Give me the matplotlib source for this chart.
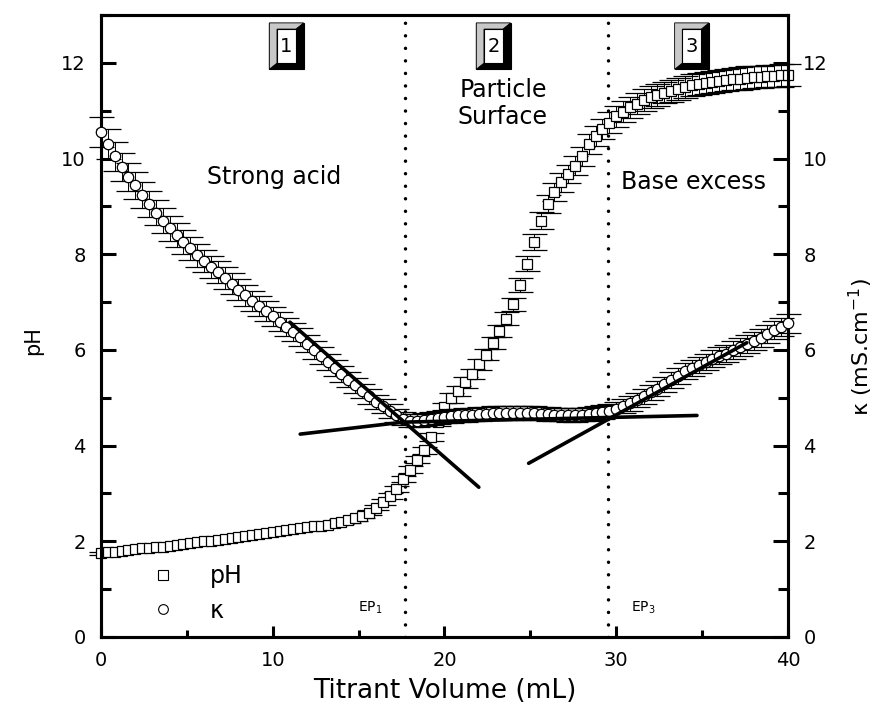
import matplotlib
matplotlib.use('Agg')
import matplotlib.pyplot as plt
from matplotlib.lines import Line2D
from matplotlib.patches import Rectangle, Polygon
from matplotlib.ticker import MultipleLocator

# titrant volume (mL)
volume = [0.0, 0.4, 0.8, 1.2, 1.6, 2.0, 2.4, 2.8, 3.2, 3.6,
	4.0, 4.4, 4.8, 5.2, 5.6, 6.0, 6.4, 6.8, 7.2, 7.6,
	8.0, 8.4, 8.8, 9.2, 9.6, 10.0, 10.4, 10.8, 11.2, 11.6,
	12.0, 12.4, 12.8, 13.2, 13.6, 14.0, 14.4, 14.8, 15.2, 15.6,
	16.0, 16.4, 16.8, 17.2, 17.6, 18.0, 18.4, 18.8, 19.2, 19.6,
	20.0, 20.4, 20.8, 21.2, 21.6, 22.0, 22.4, 22.8, 23.2, 23.6,
	24.0, 24.4, 24.8, 25.2, 25.6, 26.0, 26.4, 26.8, 27.2, 27.6,
	28.0, 28.4, 28.8, 29.2, 29.6, 30.0, 30.4, 30.8, 31.2, 31.6,
	32.0, 32.4, 32.8, 33.2, 33.6, 34.0, 34.4, 34.8, 35.2, 35.6,
	36.0, 36.4, 36.8, 37.2, 37.6, 38.0, 38.4, 38.8, 39.2, 39.6,
	40.0]

ph = [1.75, 1.77, 1.78, 1.80, 1.81, 1.83, 1.85, 1.86, 1.88, 1.89,
	1.91, 1.93, 1.95, 1.96, 1.98, 2.00, 2.01, 2.03, 2.05, 2.07,
	2.09, 2.11, 2.13, 2.15, 2.17, 2.19, 2.21, 2.23, 2.25, 2.27,
	2.29, 2.31, 2.33, 2.35, 2.38, 2.41, 2.44, 2.48, 2.53, 2.60,
	2.70, 2.82, 2.95, 3.10, 3.30, 3.50, 3.70, 3.90, 4.18, 4.50,
	4.80, 5.00, 5.15, 5.32, 5.50, 5.70, 5.90, 6.15, 6.40, 6.65,
	6.95, 7.35, 7.80, 8.25, 8.70, 9.05, 9.30, 9.50, 9.68, 9.85,
	10.05, 10.30, 10.48, 10.62, 10.75, 10.88, 10.98, 11.07, 11.15, 11.22,
	11.28, 11.33, 11.38, 11.42, 11.46, 11.50, 11.53, 11.56, 11.58, 11.60,
	11.62, 11.64, 11.66, 11.67, 11.69, 11.70, 11.71, 11.72, 11.73, 11.74,
	11.75]
ph_rel_err = 0.02

# conductivity (mS/cm)
kappa = [10.55, 10.30, 10.05, 9.82, 9.62, 9.44, 9.24, 9.05, 8.87, 8.70,
	8.54, 8.40, 8.26, 8.12, 7.98, 7.86, 7.74, 7.62, 7.50, 7.38,
	7.26, 7.14, 7.03, 6.92, 6.81, 6.70, 6.59, 6.48, 6.37, 6.26,
	6.13, 6.00, 5.88, 5.75, 5.62, 5.50, 5.38, 5.26, 5.14, 5.03,
	4.92, 4.82, 4.72, 4.63, 4.56, 4.52, 4.52, 4.54, 4.56, 4.58,
	4.60, 4.62, 4.63, 4.64, 4.65, 4.66, 4.67, 4.68, 4.68, 4.69,
	4.69, 4.69, 4.68, 4.68, 4.67, 4.66, 4.65, 4.65, 4.64, 4.64,
	4.65, 4.66, 4.68, 4.70, 4.73, 4.77, 4.82, 4.88, 4.95, 5.03,
	5.11, 5.19, 5.28, 5.37, 5.46, 5.55, 5.62, 5.69, 5.75, 5.82,
	5.88, 5.92, 6.00, 6.06, 6.12, 6.18, 6.25, 6.33, 6.41, 6.48,
	6.56]
kappa_rel_err = 0.03

# straight-line fits drawn over the conductivity curve
acid_fit_x = [11.0, 22.0]
acid_fit_y = [6.58, 3.13]
surface_fit_x = [11.6, 17.6, 34.7]
surface_fit_y = [4.24, 4.49, 4.63]
base_fit_x = [24.9, 37.6]
base_fit_y = [3.63, 6.15]

end_points = [17.7, 29.5]
ep_labels = ['EP$_1$', 'EP$_3$']
ep_label_x = [15.7, 31.6]

regions = ['1', '2', '3']
region_x = [10.8, 22.85, 34.4]

plt.rcParams['font.family'] = ['DejaVu Sans']

fig = plt.figure(figsize=(8.92, 7.04), dpi=100)
ax = fig.add_axes([0.1132, 0.0952, 0.7702, 0.8835])
ax2 = ax.twinx()

ax.errorbar(volume, ph, yerr=[v * ph_rel_err for v in ph], fmt='s', ms=7.5, mfc='white', mec='black', mew=0.9,
	ecolor='black', elinewidth=0.7, capsize=9, capthick=0.7, clip_on=False, zorder=3)
ax2.errorbar(volume, kappa, yerr=[v * kappa_rel_err for v in kappa], fmt='o', ms=7.5, mfc='white', mec='black', mew=0.9,
	ecolor='black', elinewidth=0.7, capsize=9, capthick=0.7, clip_on=False, zorder=3)

for xs, ys in [(acid_fit_x, acid_fit_y), (surface_fit_x, surface_fit_y), (base_fit_x, base_fit_y)]:
	ax2.plot(xs, ys, color='black', lw=2.6, solid_capstyle='round', zorder=4)

for xv in end_points:
	ax.axvline(xv, color='black', lw=2.5, ls=(0, (0.01, 3.6)), dash_capstyle='round', zorder=1)

for lab, xv in zip(ep_labels, ep_label_x):
	ax.text(xv, 0.62, lab, fontsize=10, ha='center', va='center')

# bevelled number buttons at the top
bw, bh, bx, by = 2.0, 0.97, 0.45, 0.13
for lab, xv in zip(regions, region_x):
	x0, y0 = xv - bw / 2, 12.35 - bh / 2
	ax.add_patch(Rectangle((x0, y0), bw, bh, fc='black', ec='black', lw=0.8, zorder=5))
	bevel = [(x0, y0), (x0, y0 + bh), (x0 + bw, y0 + bh), (x0 + bw - bx, y0 + bh - by),
		(x0 + bx, y0 + bh - by), (x0 + bx, y0 + by)]
	ax.add_patch(Polygon(bevel, closed=True, fc='#c8c8c8', ec='black', lw=0.6, zorder=6))
	ax.add_patch(Rectangle((x0 + bx, y0 + by), bw - 2 * bx, bh - 2 * by, fc='white', ec='black', lw=0.8, zorder=7))
	ax.text(xv, 12.35, lab, fontsize=14, ha='center', va='center', zorder=8)

ax.text(10.1, 9.62, 'Strong acid', fontsize=17, ha='center', va='center')
ax.text(23.4, 11.15, 'Particle\nSurface', fontsize=17, ha='center', va='center', linespacing=1.15)
ax.text(34.5, 9.5, 'Base excess', fontsize=17, ha='center', va='center')

for a in (ax, ax2):
	a.set_xlim(0, 40)
	a.set_ylim(0, 13)
	a.yaxis.set_major_locator(MultipleLocator(2))
	a.yaxis.set_minor_locator(MultipleLocator(1))
	for s in a.spines.values():
		s.set_linewidth(2.2)

ax.xaxis.set_major_locator(MultipleLocator(10))
ax.xaxis.set_minor_locator(MultipleLocator(5))
ax.tick_params(axis='x', which='major', direction='in', length=8, width=2.2, labelsize=14, pad=10)
ax.tick_params(axis='x', which='minor', direction='in', length=5, width=2.2)
ax.tick_params(axis='y', which='major', direction='in', length=11, width=2.2, labelsize=14, pad=11)
ax.tick_params(axis='y', which='minor', direction='in', length=7, width=2.2)
ax2.tick_params(axis='y', which='major', direction='in', length=11, width=2.2, labelsize=14, pad=11)
ax2.tick_params(axis='y', which='minor', direction='in', length=7, width=2.2)

ax.set_xlabel('Titrant Volume (mL)', fontsize=19, labelpad=6)
ax.set_ylabel('pH', fontsize=15)
ax.yaxis.set_label_coords(-0.084, 0.476)
ax2.set_ylabel('κ (mS.cm$^{-1}$)', fontsize=16)
ax2.yaxis.set_label_coords(1.086, 0.466)

handles = [Line2D([], [], ls='none', marker='s', ms=7, mfc='white', mec='black', mew=0.8),
	Line2D([], [], ls='none', marker='o', ms=7, mfc='white', mec='black', mew=0.8)]
ax.legend(handles, ['pH', 'κ'], loc='lower left', bbox_to_anchor=(0.025, -0.011), frameon=False,
	fontsize=17, handletextpad=1.0, labelspacing=0.45)

fig.savefig('out.png', dpi=100)
